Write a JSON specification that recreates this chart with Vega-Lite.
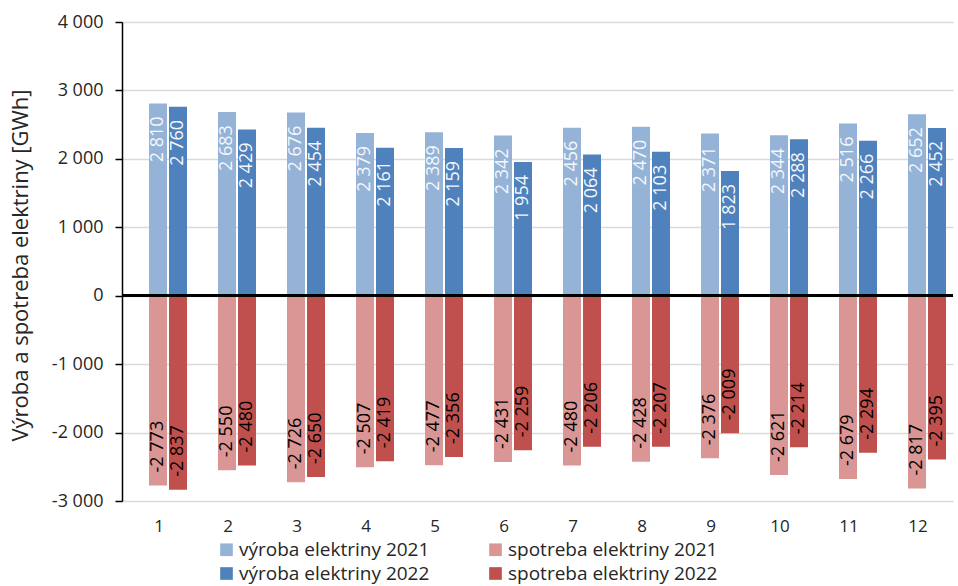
{
  "$schema": "https://vega.github.io/schema/vega-lite/v6.json",
  "width": 831,
  "height": 479,
  "autosize": "none",
  "padding": {"left": 122, "top": 22, "right": 5, "bottom": 85},
  "config": {
    "locale": {"number": {"decimal": ",", "thousands": " ", "grouping": [3], "currency": ["", ""], "minus": "-"}},
    "font": "Open Sans",
    "view": {"stroke": null},
    "axis": {"labelFont": "Open Sans", "titleFont": "Open Sans", "labelColor": "#262626", "titleColor": "#262626", "labelFontWeight": "normal", "titleFontWeight": "normal"},
    "legend": {"labelFont": "Open Sans", "labelColor": "#262626"}
  },
  "data": {
    "values": [
      {"mesiac": 1, "rok": "2021", "seria": "výroba elektriny 2021", "hodnota": 2810},
      {"mesiac": 1, "rok": "2022", "seria": "výroba elektriny 2022", "hodnota": 2760},
      {"mesiac": 1, "rok": "2021", "seria": "spotreba elektriny 2021", "hodnota": -2773},
      {"mesiac": 1, "rok": "2022", "seria": "spotreba elektriny 2022", "hodnota": -2837},
      {"mesiac": 2, "rok": "2021", "seria": "výroba elektriny 2021", "hodnota": 2683},
      {"mesiac": 2, "rok": "2022", "seria": "výroba elektriny 2022", "hodnota": 2429},
      {"mesiac": 2, "rok": "2021", "seria": "spotreba elektriny 2021", "hodnota": -2550},
      {"mesiac": 2, "rok": "2022", "seria": "spotreba elektriny 2022", "hodnota": -2480},
      {"mesiac": 3, "rok": "2021", "seria": "výroba elektriny 2021", "hodnota": 2676},
      {"mesiac": 3, "rok": "2022", "seria": "výroba elektriny 2022", "hodnota": 2454},
      {"mesiac": 3, "rok": "2021", "seria": "spotreba elektriny 2021", "hodnota": -2726},
      {"mesiac": 3, "rok": "2022", "seria": "spotreba elektriny 2022", "hodnota": -2650},
      {"mesiac": 4, "rok": "2021", "seria": "výroba elektriny 2021", "hodnota": 2379},
      {"mesiac": 4, "rok": "2022", "seria": "výroba elektriny 2022", "hodnota": 2161},
      {"mesiac": 4, "rok": "2021", "seria": "spotreba elektriny 2021", "hodnota": -2507},
      {"mesiac": 4, "rok": "2022", "seria": "spotreba elektriny 2022", "hodnota": -2419},
      {"mesiac": 5, "rok": "2021", "seria": "výroba elektriny 2021", "hodnota": 2389},
      {"mesiac": 5, "rok": "2022", "seria": "výroba elektriny 2022", "hodnota": 2159},
      {"mesiac": 5, "rok": "2021", "seria": "spotreba elektriny 2021", "hodnota": -2477},
      {"mesiac": 5, "rok": "2022", "seria": "spotreba elektriny 2022", "hodnota": -2356},
      {"mesiac": 6, "rok": "2021", "seria": "výroba elektriny 2021", "hodnota": 2342},
      {"mesiac": 6, "rok": "2022", "seria": "výroba elektriny 2022", "hodnota": 1954},
      {"mesiac": 6, "rok": "2021", "seria": "spotreba elektriny 2021", "hodnota": -2431},
      {"mesiac": 6, "rok": "2022", "seria": "spotreba elektriny 2022", "hodnota": -2259},
      {"mesiac": 7, "rok": "2021", "seria": "výroba elektriny 2021", "hodnota": 2456},
      {"mesiac": 7, "rok": "2022", "seria": "výroba elektriny 2022", "hodnota": 2064},
      {"mesiac": 7, "rok": "2021", "seria": "spotreba elektriny 2021", "hodnota": -2480},
      {"mesiac": 7, "rok": "2022", "seria": "spotreba elektriny 2022", "hodnota": -2206},
      {"mesiac": 8, "rok": "2021", "seria": "výroba elektriny 2021", "hodnota": 2470},
      {"mesiac": 8, "rok": "2022", "seria": "výroba elektriny 2022", "hodnota": 2103},
      {"mesiac": 8, "rok": "2021", "seria": "spotreba elektriny 2021", "hodnota": -2428},
      {"mesiac": 8, "rok": "2022", "seria": "spotreba elektriny 2022", "hodnota": -2207},
      {"mesiac": 9, "rok": "2021", "seria": "výroba elektriny 2021", "hodnota": 2371},
      {"mesiac": 9, "rok": "2022", "seria": "výroba elektriny 2022", "hodnota": 1823},
      {"mesiac": 9, "rok": "2021", "seria": "spotreba elektriny 2021", "hodnota": -2376},
      {"mesiac": 9, "rok": "2022", "seria": "spotreba elektriny 2022", "hodnota": -2009},
      {"mesiac": 10, "rok": "2021", "seria": "výroba elektriny 2021", "hodnota": 2344},
      {"mesiac": 10, "rok": "2022", "seria": "výroba elektriny 2022", "hodnota": 2288},
      {"mesiac": 10, "rok": "2021", "seria": "spotreba elektriny 2021", "hodnota": -2621},
      {"mesiac": 10, "rok": "2022", "seria": "spotreba elektriny 2022", "hodnota": -2214},
      {"mesiac": 11, "rok": "2021", "seria": "výroba elektriny 2021", "hodnota": 2516},
      {"mesiac": 11, "rok": "2022", "seria": "výroba elektriny 2022", "hodnota": 2266},
      {"mesiac": 11, "rok": "2021", "seria": "spotreba elektriny 2021", "hodnota": -2679},
      {"mesiac": 11, "rok": "2022", "seria": "spotreba elektriny 2022", "hodnota": -2294},
      {"mesiac": 12, "rok": "2021", "seria": "výroba elektriny 2021", "hodnota": 2652},
      {"mesiac": 12, "rok": "2022", "seria": "výroba elektriny 2022", "hodnota": 2452},
      {"mesiac": 12, "rok": "2021", "seria": "spotreba elektriny 2021", "hodnota": -2817},
      {"mesiac": 12, "rok": "2022", "seria": "spotreba elektriny 2022", "hodnota": -2395}
    ]
  },
  "encoding": {
    "x": {
      "field": "mesiac", "type": "ordinal",
      "scale": {"type": "band", "paddingInner": 0, "paddingOuter": 0.0217},
      "axis": {"title": null, "labelAngle": 0, "domain": false, "ticks": false, "grid": false, "labelFontSize": 17, "labelPadding": 25, "labelBaseline": "middle", "labelOffset": 1}
    },
    "xOffset": {"field": "rok", "type": "nominal", "scale": {"domain": ["2021", "2022"], "range": [25.5, 63.5], "paddingInner": 0.1, "paddingOuter": 0}},
    "y": {
      "field": "hodnota", "type": "quantitative",
      "scale": {"domain": [-3000, 4000], "nice": false},
      "axis": {
        "title": "Výroba a spotreba elektriny [GWh]",
        "values": [-3000, -2000, -1000, 0, 1000, 2000, 3000, 4000],
        "format": ",.0f",
        "labelFontSize": 18, "labelPadding": 12,
        "tickSize": 7, "tickColor": "#000000", "tickWidth": 1.5,
        "domainColor": "#000000", "domainWidth": 1.5,
        "gridColor": "#d9d9d9", "gridWidth": 1.5,
        "titleFontSize": 22, "titleX": -95, "titleY": 243, "titleAlign": "center", "titleBaseline": "alphabetic", "titleAngle": -90
      }
    }
  },
  "layer": [
    {
      "mark": {"type": "bar"},
      "encoding": {
        "color": {
          "field": "seria", "type": "nominal",
          "scale": {
            "domain": ["výroba elektriny 2021", "spotreba elektriny 2021", "výroba elektriny 2022", "spotreba elektriny 2022"],
            "range": ["#95b3d7", "#da9694", "#4f81bd", "#c0504d"]
          },
          "legend": {
            "title": null, "orient": "none", "legendX": 95, "legendY": 518,
            "columns": 2, "direction": "horizontal",
            "symbolType": "square", "symbolSize": 160, "symbolStrokeWidth": 0,
            "labelFontSize": 19, "labelOffset": 3, "labelLimit": 400, "columnPadding": 56, "rowPadding": 4, "padding": 0
          }
        }
      }
    },
    {
      "mark": {"type": "rule", "color": "#000000", "strokeWidth": 2},
      "encoding": {"y": {"datum": 0}, "x": null, "xOffset": null}
    },
    {
      "transform": [{"filter": "datum.hodnota > 0"}],
      "mark": {"type": "text", "angle": 270, "align": "right", "baseline": "middle", "dx": -13, "fontSize": 18, "color": "#f4f7fb"},
      "encoding": {"text": {"field": "hodnota", "type": "quantitative", "format": ",.0f"}}
    },
    {
      "transform": [{"filter": "datum.hodnota < 0"}],
      "mark": {"type": "text", "angle": 270, "align": "left", "baseline": "middle", "dx": 13, "fontSize": 18, "color": "#000000"},
      "encoding": {"text": {"field": "hodnota", "type": "quantitative", "format": ",.0f"}}
    }
  ]
}
